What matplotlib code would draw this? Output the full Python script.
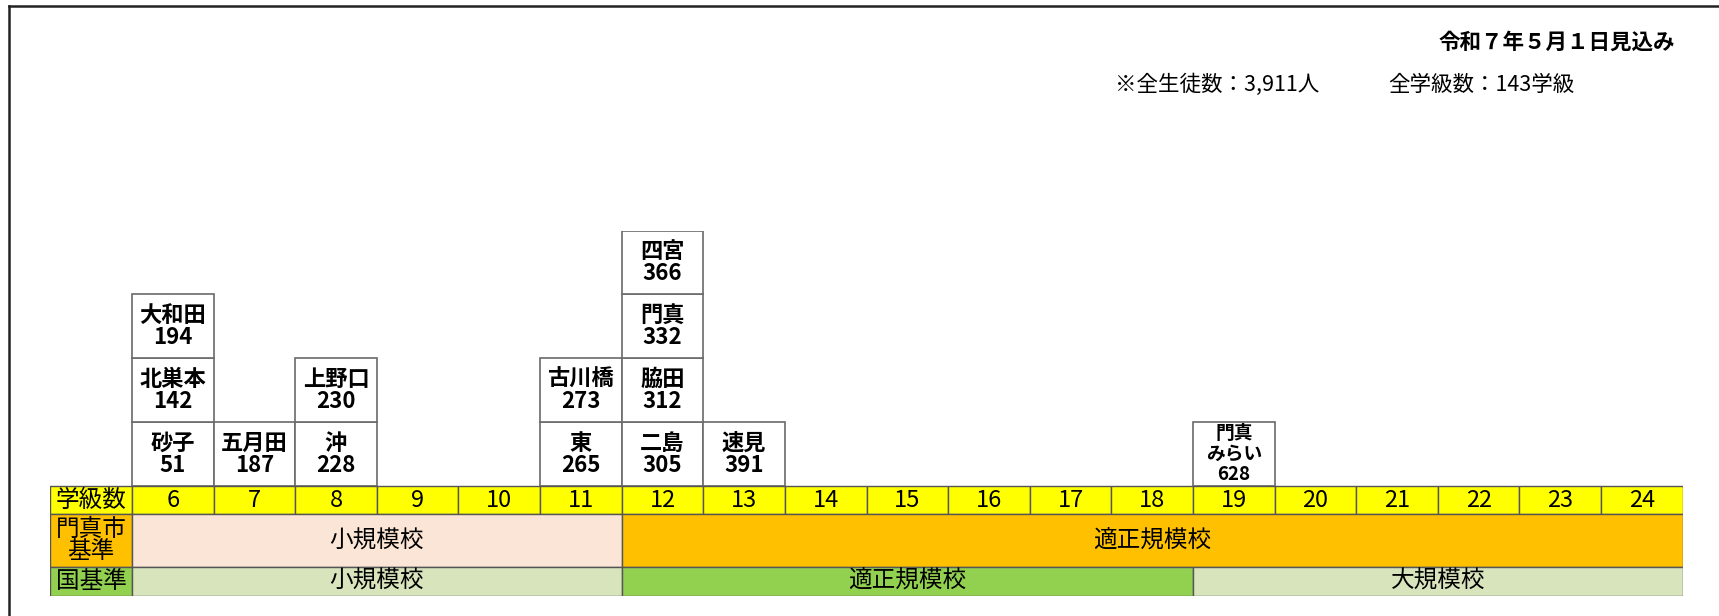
import matplotlib
matplotlib.use('Agg')
import matplotlib.pyplot as plt
from matplotlib.lines import Line2D

plt.rcParams['font.family'] = ['Noto Sans CJK JP', 'DejaVu Sans']

# data
# =====
class_counts = list(range(6, 25))
school_names = ['砂子', '北巣本', '大和田', '五月田', '沖', '上野口', '東', '古川橋',
                '二島', '脇田', '門真', '四宮', '速見', '門真\nみらい']
school_students = [51, 142, 194, 187, 228, 230, 265, 273, 305, 312, 332, 366, 391, 628]
school_classes = [6, 6, 6, 7, 8, 8, 11, 11, 12, 12, 12, 12, 13, 19]

city_labels = ['小規模校', '適正規模校']
city_from = [6, 12]
city_to = [11, 24]
national_labels = ['小規模校', '適正規模校', '大規模校']
national_from = [6, 12, 19]
national_to = [11, 18, 24]

row_labels = ['学級数', '門真市\n基準', '国基準']
title_text = '令和７年５月１日見込み'
total_students = 3911
total_classes = 143

# styles
# ======
YELLOW = '#FFFF00'
ORANGE = '#FFC000'
PEACH = '#FBE5D6'
GREEN = '#92D050'
PALE_GREEN = '#D8E4BC'
EDGE = '#555555'
BOX_EDGE = '#6a6a6a'
city_colors = [PEACH, ORANGE]
national_colors = [PALE_GREEN, GREEN, PALE_GREEN]

W, H = 1719, 616
fig = plt.figure(figsize=(W / 100, H / 100), dpi=100)
ax = fig.add_axes([50.3 / W, 20.5 / H, 1632.4 / W, 364.9 / H])
ax.set_xlim(4.5, 24.5)
yel_h, city_h, nat_h = 0.439, 0.831, 0.442
ax.set_ylim(-(yel_h + city_h + nat_h), 4)
ax.set_axis_off()

# stacked school boxes
# ====================
level = {}
for name, nstud, ncls in zip(school_names, school_students, school_classes):
    lv = level.get(ncls, 0)
    ax.bar(ncls, 1, width=1, bottom=lv, color='white', edgecolor=BOX_EDGE, linewidth=1.2)
    lines = name.split('\n') + [str(nstud)]
    fs = 16 if len(lines) == 2 else 13.5
    step = 0.34 if len(lines) == 2 else 0.325
    for i, ln in enumerate(lines):
        yoff = ((len(lines) - 1) / 2 - i) * step
        ax.text(ncls, lv + 0.5 + yoff, ln, ha='center', va='center',
                fontsize=fs, fontweight='bold')
    level[ncls] = lv + 1

# class count row
# ===============
ax.bar(5, yel_h, width=1, bottom=-yel_h, color=YELLOW, edgecolor=EDGE, linewidth=1)
ax.text(5, -yel_h / 2, row_labels[0], ha='center', va='center', fontsize=17)
for c in class_counts:
    ax.bar(c, yel_h, width=1, bottom=-yel_h, color=YELLOW, edgecolor=EDGE, linewidth=1)
    ax.text(c, -yel_h / 2, str(c), ha='center', va='center', fontsize=17)

# city standard row
# =================
y0 = -yel_h - city_h
ax.bar(5, city_h, width=1, bottom=y0, color=ORANGE, edgecolor=EDGE, linewidth=1)
ax.text(5, y0 + city_h / 2, row_labels[1], ha='center', va='center', fontsize=17,
        linespacing=0.92)
for lab, a, b, col in zip(city_labels, city_from, city_to, city_colors):
    ax.bar((a + b) / 2, city_h, width=b - a + 1, bottom=y0, color=col, edgecolor=EDGE, linewidth=1)
    ax.text((a + b) / 2, y0 + city_h / 2, lab, ha='center', va='center', fontsize=17)

# national standard row
# =====================
y1 = y0 - nat_h
ax.bar(5, nat_h, width=1, bottom=y1, color=GREEN, edgecolor=EDGE, linewidth=1)
ax.text(5, y1 + nat_h / 2, row_labels[2], ha='center', va='center', fontsize=17)
for lab, a, b, col in zip(national_labels, national_from, national_to, national_colors):
    ax.bar((a + b) / 2, nat_h, width=b - a + 1, bottom=y1, color=col, edgecolor=EDGE, linewidth=1)
    ax.text((a + b) / 2, y1 + nat_h / 2, lab, ha='center', va='center', fontsize=17)

# header texts and outer frame
# ============================
fig.text(1675 / W, 1 - 42 / H, title_text, ha='right', va='center', fontsize=15.5, fontweight='bold')
fig.text(1115 / W, 1 - 85 / H, '※全生徒数：{:,}人'.format(total_students),
         ha='left', va='center', fontsize=15.5)
fig.text(1388 / W, 1 - 85 / H, '全学級数：{}学級'.format(total_classes),
         ha='left', va='center', fontsize=15.5)

fx, fy = 9 / W, 1 - 6 / H
fig.add_artist(Line2D([fx, fx], [-0.1, fy], color='#222222', linewidth=1.8))
fig.add_artist(Line2D([fx, 1.1], [fy, fy], color='#222222', linewidth=1.8))

fig.savefig('out.png', dpi=100)
plt.close(fig)
